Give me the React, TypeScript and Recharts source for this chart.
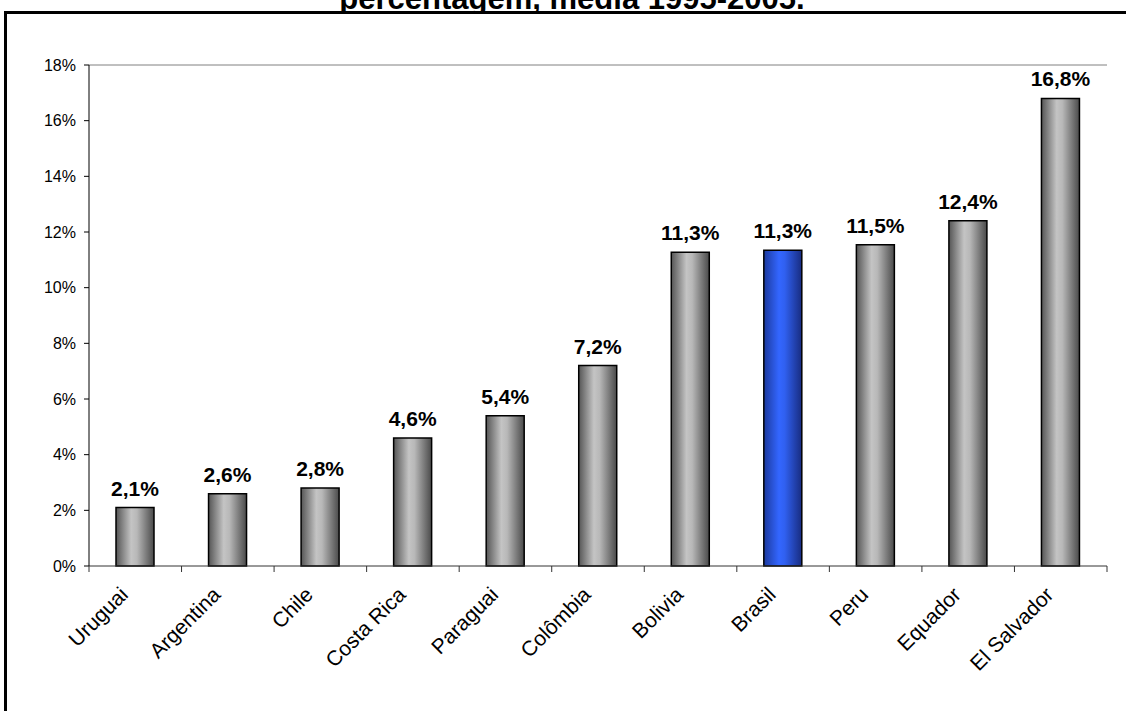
import { Bar, BarChart, Cell, LabelList, ReferenceLine, XAxis, YAxis } from "recharts"

const countries = ["Uruguai", "Argentina", "Chile", "Costa Rica", "Paraguai", "Colômbia", "Bolivia", "Brasil", "Peru", "Equador", "El Salvador"]
const shares = [2.1, 2.6, 2.8, 4.6, 5.4, 7.2, 11.27, 11.34, 11.54, 12.4, 16.8]
const highlighted = "Brasil"
const yTicks = [0, 2, 4, 6, 8, 10, 12, 14, 16, 18]
const titleLine = "percentagem, média 1995-2005."

const W = 1126
const H = 711
const MARGIN = { top: 65, right: 19, left: 0, bottom: 0 }
const Y_AXIS_W = 89
const BAND = (W - Y_AXIS_W - MARGIN.right) / countries.length
const FONT = "Arial, 'Liberation Sans', sans-serif"

const data = countries.map((name, i) => ({ name, value: shares[i] }))

const pct = (v: number) => `${v.toFixed(1).replace(".", ",")}%`

// category label rotated 45deg, plus the tick marks that sit between categories
function CountryTick(props: any) {
    const { x, y, payload, index } = props
    const half = BAND / 2
    const tx = x - 6
    const ty = y + 30
    return (
        <g>
            <line x1={x - half} x2={x - half} y1={y} y2={y + 6} stroke="#333" />
            {index === countries.length - 1 && (
                <line x1={x + half} x2={x + half} y1={y} y2={y + 6} stroke="#333" />
            )}
            <text
                x={tx}
                y={ty}
                textAnchor="end"
                fontSize={21}
                fontFamily={FONT}
                fill="#000"
                transform={`rotate(-45 ${tx} ${ty})`}
            >
                {payload.value}
            </text>
        </g>
    )
}

export default function App() {
    return (
        <div style={{ position: "absolute", left: 0, top: 0, width: W, height: H, background: "#fff", fontFamily: FONT }}>
            <svg width={W} height={12} style={{ position: "absolute", left: 0, top: 0 }}>
                <text x={572} y={9} textAnchor="middle" fontSize={31} fontWeight="bold" fontFamily={FONT} fill="#000">
                    {titleLine}
                </text>
            </svg>
            <div
                style={{
                    position: "absolute",
                    left: 4,
                    top: 11,
                    width: W - 4,
                    height: H - 11,
                    borderTop: "3px solid #000",
                    borderLeft: "3px solid #000",
                    boxSizing: "border-box",
                }}
            />
            <div style={{ position: "absolute", left: 0, top: 0 }}>
                <BarChart width={W} height={H} data={data} margin={MARGIN}>
                    <defs>
                        <linearGradient id="greyBar" x1="0" y1="0" x2="1" y2="0">
                            <stop offset="0%" stopColor="#555" />
                            <stop offset="40%" stopColor="#c4c4c4" />
                            <stop offset="55%" stopColor="#b8b8b8" />
                            <stop offset="100%" stopColor="#4a4a4a" />
                        </linearGradient>
                        <linearGradient id="blueBar" x1="0" y1="0" x2="1" y2="0">
                            <stop offset="0%" stopColor="#1c3a9e" />
                            <stop offset="40%" stopColor="#3366ff" />
                            <stop offset="55%" stopColor="#3060f0" />
                            <stop offset="100%" stopColor="#182c80" />
                        </linearGradient>
                    </defs>
                    <XAxis
                        dataKey="name"
                        interval={0}
                        height={H - 566}
                        tickSize={0}
                        tickMargin={0}
                        tickLine={false}
                        axisLine={{ stroke: "#333" }}
                        tick={<CountryTick />}
                    />
                    <YAxis
                        width={Y_AXIS_W}
                        domain={[0, 18]}
                        ticks={yTicks}
                        interval={0}
                        tickFormatter={(v) => `${v}%`}
                        tickSize={5}
                        tickMargin={8}
                        axisLine={{ stroke: "#000" }}
                        tickLine={{ stroke: "#000" }}
                        tick={{ fill: "#000", fontSize: 16, fontFamily: FONT }}
                    />
                    <YAxis
                        yAxisId="frame"
                        orientation="right"
                        width={0}
                        domain={[0, 18]}
                        tick={false}
                        tickLine={false}
                        axisLine={{ stroke: "#808080" }}
                    />
                    <ReferenceLine y={18} stroke="#808080" />
                    <Bar dataKey="value" barSize={38} stroke="#000" strokeWidth={1.5} isAnimationActive={false}>
                        {data.map((d) => (
                            <Cell key={d.name} fill={d.name === highlighted ? "url(#blueBar)" : "url(#greyBar)"} />
                        ))}
                        <LabelList
                            dataKey="value"
                            position="top"
                            offset={12}
                            formatter={(v: any) => pct(Number(v))}
                            style={{ fill: "#000", fontSize: 21, fontWeight: "bold", fontFamily: FONT }}
                        />
                    </Bar>
                </BarChart>
            </div>
        </div>
    )
}
